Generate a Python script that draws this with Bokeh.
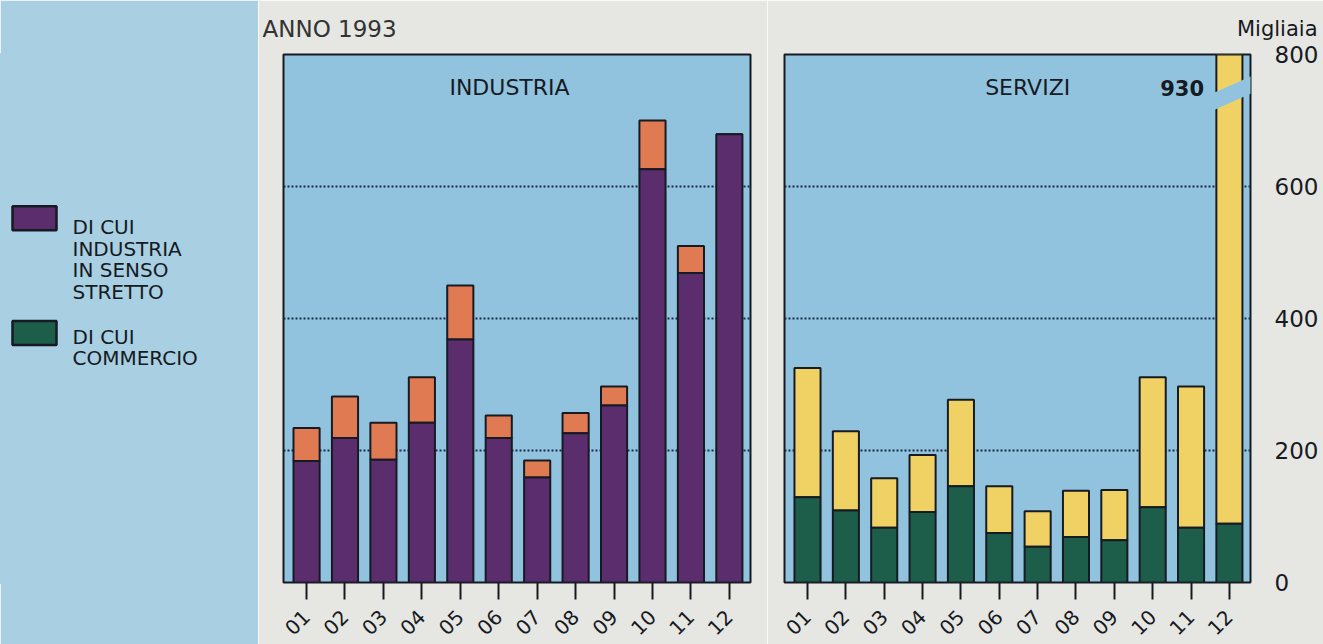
import math
from bokeh.plotting import figure
from bokeh.models import ColumnDataSource, Range1d, FixedTicker
from bokeh.layouts import row
from bokeh.core.properties import value
from bokeh.embed import file_html
from bokeh.resources import INLINE

# ---------------- data ----------------
months = ["01", "02", "03", "04", "05", "06", "07", "08", "09", "10", "11", "12"]
industria_totale = [234, 282, 242, 311, 450, 253, 185, 257, 297, 700, 510, 679]
industria_senso_stretto = [184, 219, 186, 242, 368, 219, 159, 226, 268, 626, 469, 679]
servizi_totale = [325, 229, 158, 193, 277, 146, 108, 139, 140, 311, 297, 930]
servizi_commercio = [129, 109, 83, 107, 146, 75, 54, 69, 64, 114, 83, 89]
y_ticks = [0, 200, 400, 600, 800]
grid_ticks = [200, 400, 600]
y_max = 800
unit_label = "Migliaia"
title_text = "ANNO 1993"
panel_titles = ["INDUSTRIA", "SERVIZI"]
legend_labels = ["DI CUI\nINDUSTRIA\nIN SENSO\nSTRETTO", "DI CUI\nCOMMERCIO"]

# ---------------- style ----------------
FONT = "DejaVu Sans"
PAGE_BG = "#e6e6e2"
STRIP_BG = "#a9cfe3"
PLOT_BG = "#92c3de"
PURPLE = "#5c2d6d"
ORANGE = "#e07a52"
YELLOW = "#f0d264"
GREEN = "#1d5e4b"
INK = "#161a22"
GRID = "#1c2a46"

H = 644
TOP_B, BOT_B = 54, 61
BAR_W = 0.68
X_START, X_END = 0.4, 12.55

xs = [i + 1 for i in range(len(months))]
overrides = {x: m for x, m in zip(xs, months)}


def make_panel(width, left, right, total, part, top_color, part_color, yaxis):
    p = figure(width=width, height=H, output_backend="svg", toolbar_location=None,
               x_range=Range1d(X_START, X_END), y_range=Range1d(0, y_max),
               y_axis_location="right" if yaxis else None,
               min_border_left=left, min_border_right=right,
               min_border_top=TOP_B, min_border_bottom=BOT_B)
    p.background_fill_color = PLOT_BG
    p.border_fill_color = PAGE_BG
    p.outline_line_color = INK
    p.outline_line_width = 2
    p.xgrid.visible = False
    p.ygrid.ticker = FixedTicker(ticks=grid_ticks)
    p.ygrid.grid_line_color = GRID
    p.ygrid.grid_line_dash = "2 2"
    p.ygrid.grid_line_width = 2

    xa = p.xaxis[0]
    xa.ticker = FixedTicker(ticks=xs)
    xa.major_label_overrides = overrides
    xa.major_label_orientation = math.pi / 4
    xa.axis_line_color = None
    xa.major_tick_in = 0
    xa.major_tick_out = 17
    xa.major_tick_line_color = INK
    xa.major_tick_line_width = 2
    xa.minor_tick_line_color = None
    xa.major_label_text_font = FONT
    xa.major_label_text_font_size = "20px"
    xa.major_label_text_color = INK
    xa.major_label_standoff = 14

    if yaxis:
        ya = p.yaxis[0]
        ya.ticker = FixedTicker(ticks=y_ticks)
        ya.axis_line_color = None
        ya.major_tick_line_color = None
        ya.minor_tick_line_color = None
        ya.major_label_text_font = FONT
        ya.major_label_text_font_size = "23px"
        ya.major_label_text_color = INK
        ya.major_label_standoff = 18

    src = ColumnDataSource(dict(x=xs, total=total, part=part,
                                zero=[0] * len(xs)))
    p.vbar(x="x", bottom="part", top="total", width=BAR_W, source=src,
           fill_color=top_color, line_color=INK, line_width=2)
    p.vbar(x="x", bottom="zero", top="part", width=BAR_W, source=src,
           fill_color=part_color, line_color=INK, line_width=2)
    return p


pA = make_panel(509, 25, 17, industria_totale, industria_senso_stretto,
                ORANGE, PURPLE, False)
pB = make_panel(556, 17, 73, servizi_totale, servizi_commercio,
                YELLOW, GREEN, True)

# panel titles
for p, t, tx in ((pA, panel_titles[0], 6.28), (pB, panel_titles[1], 6.74)):
    p.text(x=[tx], y=[750], text=[t], text_font=value(FONT),
           text_font_size="22px", text_color=INK,
           text_align="center", text_baseline="middle")

# broken bar (value above the scale) in SERVIZI
over_idx = [i for i, v in enumerate(servizi_totale) if v > y_max][0]
ox = xs[over_idx]
bx0 = ox - BAR_W / 2 - 0.06
bx1 = X_END + 0.05
pB.patch(x=[bx0, bx1, bx1, bx0], y=[716, 742, 768, 742],
         fill_color=PLOT_BG, line_color=None)
pB.text(x=[ox - 0.66], y=[750], text=[str(servizi_totale[over_idx])],
        text_font=value(FONT), text_font_size="21px", text_font_style="bold",
        text_color=INK, text_align="right", text_baseline="middle")

# title (above the left panel) and unit label (above the right axis)
pA.title.text = title_text
pA.title.align = "left"
pA.title.offset = -21
pA.title.standoff = 25
pA.title.text_font = FONT
pA.title.text_font_size = "23px"
pA.title.text_font_style = "normal"
pA.title.text_color = "#333333"

pB.title.text = unit_label
pB.title.align = "right"
pB.title.vertical_align = "middle"
pB.title.offset = -67
pB.title.standoff = 25
pB.title.text_font = FONT
pB.title.text_font_size = "21px"
pB.title.text_font_style = "normal"
pB.title.text_color = INK

# ---------------- legend strip ----------------
# ranges chosen so that the frame maps 1:1 onto page pixels
pL = figure(width=258, height=H, output_backend="svg", toolbar_location=None,
            x_range=Range1d(0, 258), y_range=Range1d(H - BOT_B, TOP_B),
            x_axis_location=None, y_axis_location=None,
            min_border_left=0, min_border_right=0,
            min_border_top=TOP_B, min_border_bottom=BOT_B)
pL.background_fill_color = STRIP_BG
pL.border_fill_color = STRIP_BG
pL.outline_line_color = STRIP_BG
pL.outline_line_width = 3
pL.grid.visible = False

sw_x0, sw_x1 = 12, 56
sw_tops = [206, 321]
sw_h = 24
text_x = 72
text_base = [227, 337]
pL.quad(left=[sw_x0] * 2, right=[sw_x1] * 2, top=sw_tops,
        bottom=[t + sw_h for t in sw_tops], fill_color=[PURPLE, GREEN],
        line_color=INK, line_width=2.5)
for lab, yb in zip(legend_labels, text_base):
    for j, line in enumerate(lab.split("\n")):
        pL.text(x=[text_x], y=[yb + j * 21.5], text=[line],
                text_font=value(FONT), text_font_size="20px",
                text_color=INK, text_align="left",
                text_baseline="alphabetic")

layout = row(pL, pA, pB, spacing=0)
open("out.html", "w").write(file_html(layout, INLINE))
